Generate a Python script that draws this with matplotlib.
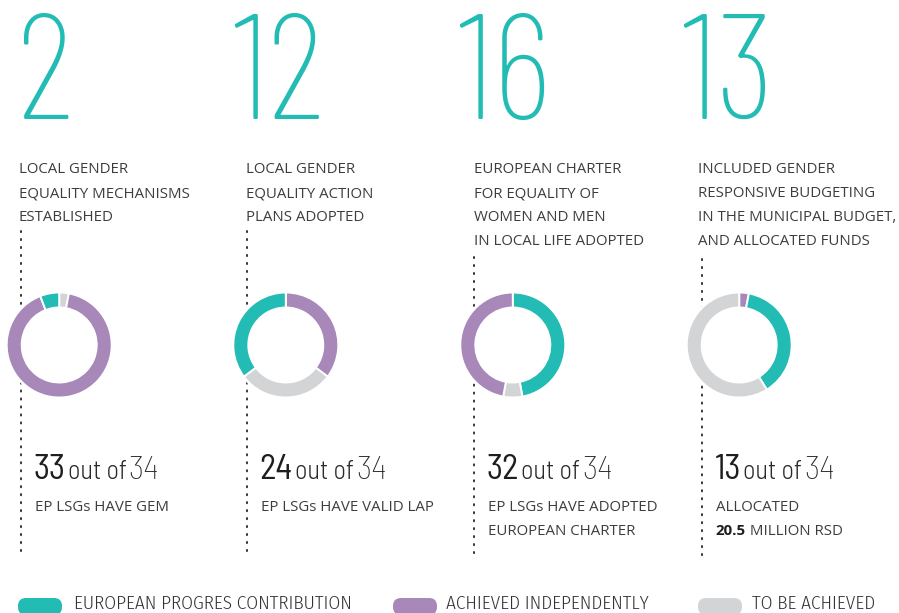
import matplotlib
matplotlib.use("Agg")
import matplotlib.pyplot as plt
from matplotlib.patches import Circle, FancyBboxPatch

# data
headline = [2, 12, 16, 13]
descriptions = [
    ["LOCAL GENDER", "EQUALITY MECHANISMS", "ESTABLISHED"],
    ["LOCAL GENDER", "EQUALITY ACTION", "PLANS ADOPTED"],
    ["EUROPEAN CHARTER", "FOR EQUALITY OF", "WOMEN AND MEN", "IN LOCAL LIFE ADOPTED"],
    ["INCLUDED GENDER", "RESPONSIVE BUDGETING", "IN THE MUNICIPAL BUDGET,", "AND ALLOCATED FUNDS"],
]
achieved = [33, 24, 32, 13]
total = 34
ep_contribution = [2, 12, 16, 13]
independently = [31, 12, 16, 1]
to_be_achieved = [1, 10, 2, 20]
# order of slices, clockwise from 12 o'clock
slice_order = [
    ["todo", "indep", "ep"],
    ["indep", "todo", "ep"],
    ["ep", "todo", "indep"],
    ["indep", "ep", "todo"],
]
notes = [
    ["EP LSGs HAVE GEM"],
    ["EP LSGs HAVE VALID LAP"],
    ["EP LSGs HAVE ADOPTED", "EUROPEAN CHARTER"],
    ["ALLOCATED", "20.5| MILLION RSD"],
]
legend_labels = ["EUROPEAN PROGRES CONTRIBUTION", "ACHIEVED INDEPENDENTLY", "TO BE ACHIEVED"]

TEAL = "#22bcb5"
PURPLE = "#a887b9"
GREY = "#d3d4d6"
colors = {"ep": TEAL, "indep": PURPLE, "todo": GREY}

W, H = 899, 613
fig = plt.figure(figsize=(W / 100, H / 100), dpi=100)
ax = fig.add_axes([0, 0, 1, 1])

col_x = [19, 246, 474, 698]
num_x = [17, 232, 457, 681]
line_x = [20.7, 246.7, 474, 701.7]
line_top = [231, 231, 257, 259]
donut_x = [59.2, 285.8, 512.8, 739.2]
donut_y = 345
R_OUT, RING = 52.5, 15

DESC = dict(family="Open Sans", fontsize=10.8, color="#3d3d3d", va="baseline")

for i in range(4):
    # big headline number
    ax.text(num_x[i], 119, str(headline[i]), family="Barlow Condensed", fontweight=250,
            fontsize=107, color=TEAL, va="baseline")
    for j, line in enumerate(descriptions[i]):
        ax.text(col_x[i], 173 + 24 * j, line, **DESC)

    # dotted guide line
    ax.plot([line_x[i], line_x[i]], [line_top[i], 556], color="#333333", lw=1.4,
            linestyle=(0, (0.6, 3.5)), dash_capstyle="round", zorder=1)

    # donut
    vals = {"ep": ep_contribution[i], "indep": independently[i], "todo": to_be_achieved[i]}
    keys = slice_order[i]
    ax.add_patch(Circle((donut_x[i], donut_y), R_OUT + 1, color="white", zorder=2))
    # y axis is inverted: counterclock in data is clockwise on screen
    ax.pie([vals[k] for k in keys], colors=[colors[k] for k in keys],
           center=(donut_x[i], donut_y), radius=R_OUT, startangle=-90, counterclock=True,
           frame=True, wedgeprops=dict(width=RING, edgecolor="white", linewidth=1.4, zorder=3))

ax.set_xlim(0, W)
ax.set_ylim(H, 0)
ax.set_aspect("auto")
ax.axis("off")

renderer = fig.canvas.get_renderer()
inv = ax.transData.inverted()


def right_edge(t):
    bb = t.get_window_extent(renderer)
    return inv.transform((bb.x1, bb.y0))[0]


for i in range(4):
    x0 = line_x[i] + 13
    t1 = ax.text(x0, 479, str(achieved[i]), family="Barlow Semi Condensed", fontweight=400,
                 fontsize=25, color="#1e1e1e", va="baseline")
    t2 = ax.text(right_edge(t1) + 2, 479, "out of", family="Barlow Semi Condensed", fontweight=300,
                 fontsize=19, color="#2a2a2a", va="baseline")
    ax.text(right_edge(t2) + 2, 479, str(total), family="Barlow Semi Condensed", fontweight=250,
            fontsize=24.5, color="#2a2a2a", va="baseline")
    for j, line in enumerate(notes[i]):
        if "|" in line:
            bold, rest = line.split("|")
            tb = ax.text(x0 + 1, 511 + 24 * j, bold, family="Open Sans", fontweight="bold",
                         fontsize=10.8, color="#1e1e1e", va="baseline")
            ax.text(right_edge(tb), 511 + 24 * j, rest, **DESC)
        else:
            ax.text(x0 + 1, 511 + 24 * j, line, **DESC)

# legend
leg_x = [18, 393, 698]
txt_x = [74, 446, 752]
for k, key in enumerate(["ep", "indep", "todo"]):
    ax.add_patch(FancyBboxPatch((leg_x[k], 598), 44, 17,
                                boxstyle="round,pad=0,rounding_size=8",
                                fc=colors[key], ec="none", zorder=3))
    ax.text(txt_x[k], 612.9, legend_labels[k], family="Fira Sans Condensed", fontweight=300,
            fontsize=13.8, color="#333333", va="bottom")

fig.savefig("out.png", dpi=100)
